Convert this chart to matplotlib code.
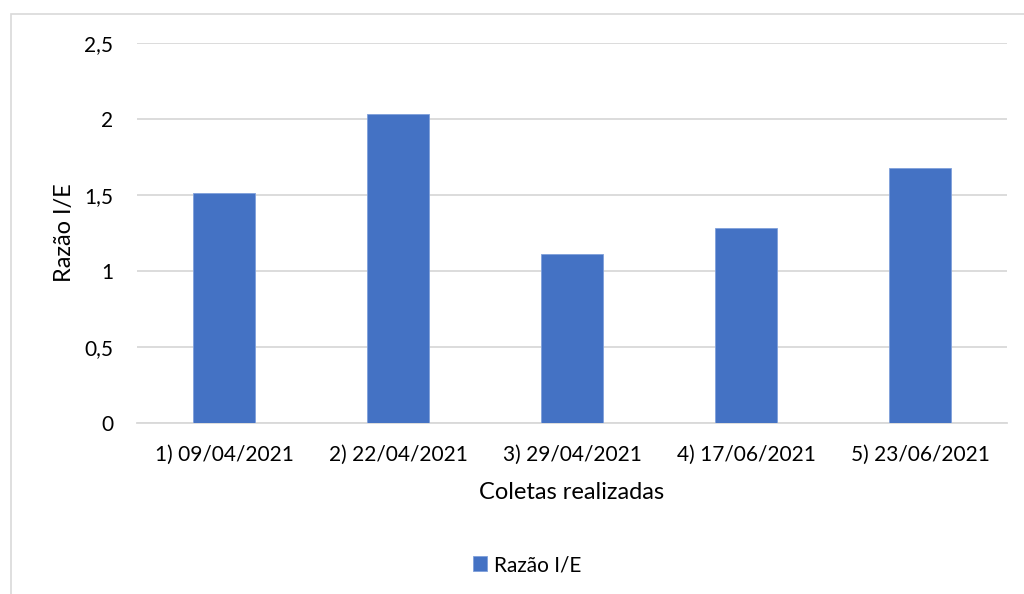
import matplotlib
matplotlib.use("Agg")
import matplotlib.pyplot as plt
from matplotlib.patches import Rectangle
from matplotlib.ticker import FixedLocator, FuncFormatter

categories = ["1) 09/04/2021", "2) 22/04/2021", "3) 29/04/2021", "4) 17/06/2021", "5) 23/06/2021"]
ratios = [1.51, 2.03, 1.11, 1.28, 1.68]
y_ticks = [0, 0.5, 1, 1.5, 2, 2.5]
series_name = "Razão I/E"
x_title = "Coletas realizadas"
y_title = "Razão I/E"

plt.rcParams["font.family"] = ["Lato", "DejaVu Sans"]

W, H = 1024, 594
fig = plt.figure(figsize=(W / 100, H / 100), dpi=100)
fig.patch.set_facecolor("white")

# chart frame
fig.add_artist(Rectangle((11 / W, -0.05), 1.2, 1 - 14 / H + 0.05, transform=fig.transFigure,
                         fill=False, edgecolor="#D9D9D9", linewidth=1.2))

ax = fig.add_axes([137 / W, 1 - 423 / H, 870 / W, 380 / H])
x = range(len(categories))
ax.bar(x, ratios, width=0.355, color="#4472C4", edgecolor="#7FA0DA", linewidth=0.6,
       zorder=3, label=series_name)

ax.set_xlim(-0.5, len(categories) - 0.5)
ax.set_ylim(0, 2.5)
ax.yaxis.set_major_locator(FixedLocator(y_ticks))
ax.yaxis.set_major_formatter(FuncFormatter(lambda v, p: f"{v:g}".replace(".", ",")))
ax.set_xticks(list(x))
ax.set_xticklabels(categories)
ax.grid(axis="y", color="#D9D9D9", linewidth=1.3, zorder=0)
for s in ["top", "right", "left"]:
    ax.spines[s].set_visible(False)
ax.spines["bottom"].set_color("#D9D9D9")
ax.spines["bottom"].set_linewidth(1.3)
ax.tick_params(axis="both", length=0, labelsize=15, colors="#000000")
ax.tick_params(axis="y", pad=17)
ax.tick_params(axis="x", pad=16)

ax.set_xlabel(x_title, fontsize=17, labelpad=12)
ax.set_ylabel(y_title, fontsize=17, labelpad=7)

handles, labels = ax.get_legend_handles_labels()
fig.legend(handles, labels, loc="center", bbox_to_anchor=(527 / W, 1 - 565 / H),
           frameon=False, fontsize=15, handlelength=0.7, handleheight=0.7,
           handletextpad=0.3)

fig.savefig("out.png", dpi=100, facecolor="white")
